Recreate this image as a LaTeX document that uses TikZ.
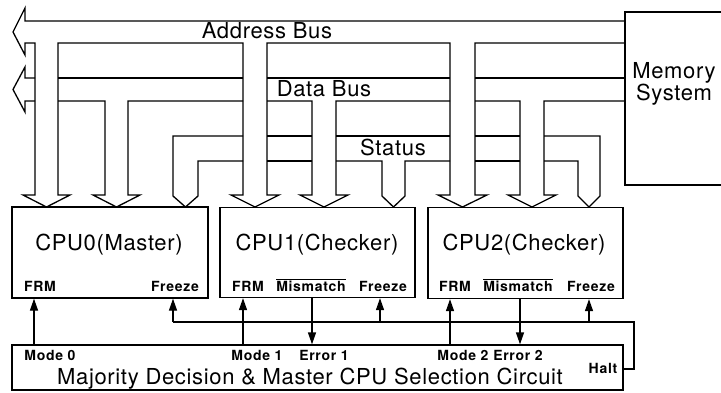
\documentclass[tikz,border=0pt]{standalone}
\usepackage{fontspec}
\setmainfont{TeX Gyre Heros}
\newfontfamily\bigfam[LetterSpace=3]{TeX Gyre Heros}
\newfontfamily\smallfam[LetterSpace=5]{TeX Gyre Heros}
\usetikzlibrary{arrows.meta}
\begin{document}
\begin{tikzpicture}[x=1pt,y=-1pt, line width=1.3pt, line join=miter,
  box/.style={draw, line width=1.3pt, inner sep=0pt},
  big/.style={font=\bigfam\fontsize{22}{24}\selectfont, inner sep=0pt},
  small/.style={font=\smallfam\fontsize{14}{15}\selectfont\bfseries, inner sep=0pt},
  sig/.style={line width=1.3pt, -{Triangle[length=12pt,width=8pt]}}]
\useasboundingbox (0,0) rectangle (721,392);

% ---------- boxes ----------
\node[box, minimum width=196pt, minimum height=91pt] (cpu0) at (110,252.5) {};
\node[box, minimum width=195pt, minimum height=90pt] (cpu1) at (317.5,252.5) {};
\node[box, minimum width=195pt, minimum height=91pt] (cpu2) at (525.5,253) {};
\node[box, minimum width=611pt, minimum height=45pt] (mdc) at (317.5,367.5) {};
\draw (721,12) -- (625,12) -- (625,185) -- (721,185);

% ---------- texts ----------
\node[big] (t0) at (109,245) {CPU0(Master)};
\node[big] (t1) at (317,245) {CPU1(Checker)};
\node[big] (t2) at (524,245) {CPU2(Checker)};
\node[big, align=center, font=\bigfam\fontsize{22}{18}\selectfont] (tm) at (674,84) {Memory\\System};
\node[big] (tab) at (267,31) {Address Bus};
\node[big] (tdb) at (324,89) {Data Bus};
\node[big] (tsb) at (393,147) {Status};
\node[big] (tmdc) at (310,379) {Majority Decision \& Master CPU Selection Circuit};

\node[small] (frm0) at (40,286) {FRM};
\node[small] (fz0) at (175,286) {Freeze};
\node[small] (frm1) at (248,286) {FRM};
\node[small] (mm1) at (311,285) {$\overline{\mbox{Mismatch}}$};
\node[small] (fz1) at (383,286) {Freeze};
\node[small] (frm2) at (455,286) {FRM};
\node[small] (mm2) at (518,285) {$\overline{\mbox{Mismatch}}$};
\node[small] (fz2) at (591,286) {Freeze};

\node[small] (md0) at (50,355) {Mode 0};
\node[small] (md1) at (257,355) {Mode 1};
\node[small] (er1) at (324,355) {Error 1};
\node[small] (md2) at (463,355) {Mode 2};
\node[small] (er2) at (518,355) {Error 2};
\node[small] (hlt) at (603,368) {Halt};

% ---------- address bus ----------
\draw (625,21) -- (25,21) -- (25,8) -- (13,32) -- (25,55) -- (25,43) -- (35,43)
  -- (35,195) -- (23,195) -- (46.5,207) -- (70,195) -- (58,195) -- (58,43)
  -- (243,43) -- (243,195) -- (231,195) -- (255,207) -- (279,195) -- (267,195) -- (267,43)
  -- (450,43) -- (450,195) -- (438,195) -- (462.5,207) -- (487,195) -- (475,195) -- (475,43)
  -- (625,43);

% ---------- data bus ----------
\draw (35,78) -- (25,78) -- (25,67) -- (13,89.5) -- (25,112) -- (25,101) -- (35,101);
\draw (58,78) -- (243,78);
\draw (267,78) -- (450,78);
\draw (475,78) -- (625,78);
\draw (58,101) -- (105,101) -- (105,195) -- (93,195) -- (116.5,207) -- (140,195) -- (128,195) -- (128,101) -- (243,101);
\draw (267,101) -- (312,101) -- (312,195) -- (300,195) -- (324,207) -- (348,195) -- (336,195) -- (336,101) -- (450,101);
\draw (475,101) -- (520,101) -- (520,195) -- (508,195) -- (532,207) -- (556,195) -- (544,195) -- (544,101) -- (625,101);

% ---------- status bus ----------
\draw (185.5,207) -- (173,196) -- (173,136) -- (243,136);
\draw (267,136) -- (312,136);
\draw (336,136) -- (450,136);
\draw (475,136) -- (520,136);
\draw (544,136) -- (600,136) -- (600,196) -- (589,207) -- (578,196) -- (578,161) -- (544,161);
\draw (520,161) -- (475,161);
\draw (450,161) -- (405,161) -- (405,196) -- (393.5,207) -- (382,196) -- (382,161) -- (336,161);
\draw (312,161) -- (267,161);
\draw (243,161) -- (198,161) -- (198,196) -- (185.5,207);

% ---------- control signals ----------
\coordinate (m0) at (34,345);
\coordinate (m1) at (243,345);
\coordinate (m2) at (450,345);
\draw[sig] (m0) -- (m0 |- cpu0.south);
\draw[sig] (m1) -- (m1 |- cpu1.south);
\draw[sig] (m2) -- (m2 |- cpu2.south);
\coordinate (e1) at (312,297.5);
\coordinate (e2) at (520,298);
\draw[sig] (e1) -- (e1 |- mdc.north);
\draw[sig] (e2) -- (e2 |- mdc.north);

\coordinate (h0) at (mdc.east |- 0,369);
\coordinate (hr) at (634,369);
\coordinate (fr) at (634,322);
\coordinate (f0) at (173,322);
\coordinate (f1) at (380,322);
\coordinate (f2) at (589,322);
\draw (h0) -- (hr) -- (fr) -- (f0);
\draw[sig] (f0) -- (f0 |- cpu0.south);
\draw[sig] (f1) -- (f1 |- cpu1.south);
\draw[sig] (f2) -- (f2 |- cpu2.south);
\end{tikzpicture}
\end{document}
